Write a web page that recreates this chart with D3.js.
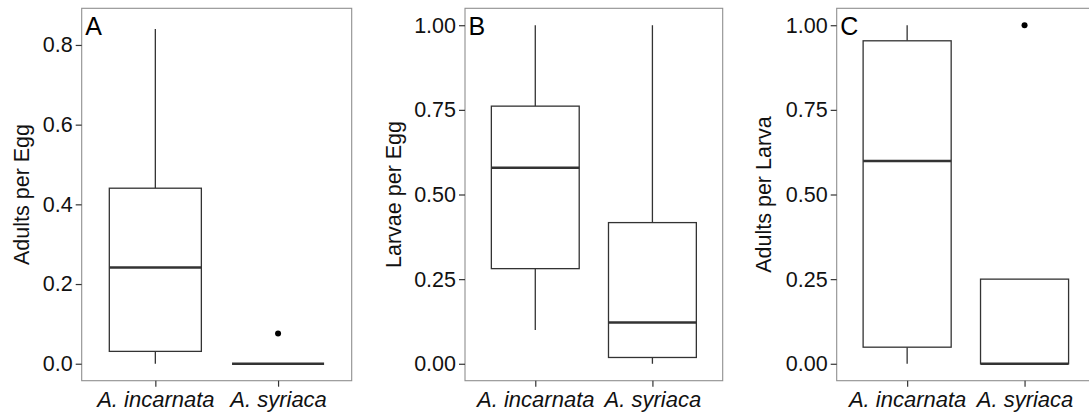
<!DOCTYPE html>
<html>
<head>
<meta charset="utf-8">
<script src="https://cdn.jsdelivr.net/npm/d3@7"></script>
<style>
  html, body { margin: 0; padding: 0; background: #fff; }
  svg { display: block; }
  text { font-family: "Liberation Sans", Arial, sans-serif; }
</style>
</head>
<body>
<svg id="chart" width="1089" height="415"></svg>
<script>
// ---- Data ----
const categories = ["A. incarnata", "A. syriaca"];
const panelLabels = ["A", "B", "C"];
const yTitles = ["Adults per Egg", "Larvae per Egg", "Adults per Larva"];
// five-number summaries: [lower whisker, Q1, median, Q3, upper whisker]
const statsA = [[0, 0.031, 0.2415, 0.4405, 0.84], [0, 0, 0, 0, 0]];
const statsB = [[0.10, 0.281, 0.579, 0.761, 1.0], [0, 0.0186, 0.122, 0.417, 1.0]];
const statsC = [[0, 0.049, 0.599, 0.954, 1.0], [0, 0, 0, 0.25, 0.25]];
const outliersA = [[], [0.076]];
const outliersB = [[], []];
const outliersC = [[], [1.0]];
const ticksA = [0, 0.2, 0.4, 0.6, 0.8];
const ticksBC = [0, 0.25, 0.5, 0.75, 1.0];

const panels = [
  { label: panelLabels[0], title: yTitles[0], stats: statsA, outliers: outliersA, ticks: ticksA, fmt: ".1f",
    domain: [-0.0426, 0.892], left: 81.7, right: 351.7, titleOff: 60.5 },
  { label: panelLabels[1], title: yTitles[1], stats: statsB, outliers: outliersB, ticks: ticksBC, fmt: ".2f",
    domain: [-0.05, 1.05], left: 465, right: 722.7, titleOff: 72 },
  { label: panelLabels[2], title: yTitles[2], stats: statsC, outliers: outliersC, ticks: ticksBC, fmt: ".2f",
    domain: [-0.05, 1.05], left: 836.7, right: 1095, titleOff: 73.4 }
];

const plotTop = 8.3, plotBottom = 380.7;
const svg = d3.select("#chart");
const lineCol = "#333333";
const ff = "'Liberation Sans', Arial, sans-serif";

panels.forEach(p => {
  const x = d3.scalePoint().domain(categories).range([p.left, p.right]).padding(0.6);
  const y = d3.scaleLinear().domain(p.domain).range([plotBottom, plotTop]);
  const bw = x.step() * 0.75;
  const g = svg.append("g");

  // panel border
  g.append("rect").attr("x", p.left).attr("y", plotTop)
    .attr("width", p.right - p.left).attr("height", plotBottom - plotTop)
    .attr("fill", "none").attr("stroke", "#8f8f8f").attr("stroke-width", 1.1);

  // y axis
  const ya = g.append("g").attr("transform", `translate(${p.left},0)`)
    .call(d3.axisLeft(y).tickValues(p.ticks).tickFormat(d3.format(p.fmt)).tickSize(6).tickPadding(3));
  ya.select(".domain").remove();
  ya.selectAll(".tick line").attr("stroke", lineCol).attr("stroke-width", 1.2);
  ya.selectAll(".tick text").attr("font-size", 21.5).attr("fill", "#111")
    .style("font-family", ff);

  // x axis
  const xa = g.append("g").attr("transform", `translate(0,${plotBottom})`)
    .call(d3.axisBottom(x).tickSize(6).tickPadding(4));
  xa.select(".domain").remove();
  xa.selectAll(".tick line").attr("stroke", lineCol).attr("stroke-width", 1.2);
  xa.selectAll(".tick text").attr("font-size", 22).attr("fill", "#111")
    .attr("font-style", "italic").attr("dy", "0.76em")
    .style("font-family", ff);

  // y title
  g.append("text")
    .attr("transform", `translate(${p.left - p.titleOff},${(plotTop + plotBottom) / 2}) rotate(-90)`)
    .attr("text-anchor", "middle").attr("dy", "0.35em")
    .attr("font-size", 21.5).attr("fill", "#111").text(p.title);

  // boxes
  p.stats.forEach((s, i) => {
    const cx = x(categories[i]);
    const bg = g.append("g");
    // whiskers
    bg.append("line").attr("x1", cx).attr("x2", cx).attr("y1", y(s[3])).attr("y2", y(s[4]))
      .attr("stroke", lineCol).attr("stroke-width", 1.3);
    bg.append("line").attr("x1", cx).attr("x2", cx).attr("y1", y(s[1])).attr("y2", y(s[0]))
      .attr("stroke", lineCol).attr("stroke-width", 1.3);
    // box
    bg.append("rect").attr("x", cx - bw / 2).attr("y", y(s[3]))
      .attr("width", bw).attr("height", Math.max(0, y(s[1]) - y(s[3])))
      .attr("fill", "#fff").attr("stroke", lineCol).attr("stroke-width", 1.3);
    // median
    bg.append("line").attr("x1", cx - bw / 2).attr("x2", cx + bw / 2)
      .attr("y1", y(s[2])).attr("y2", y(s[2]))
      .attr("stroke", lineCol).attr("stroke-width", 2.6);
    // outliers
    p.outliers[i].forEach(o => {
      bg.append("circle").attr("cx", cx).attr("cy", y(o)).attr("r", 3).attr("fill", "#000");
    });
  });

  // panel label
  g.append("text").attr("x", p.left + 3.5).attr("y", 34.5)
    .attr("font-size", 25).attr("fill", "#000").text(p.label);
});
</script>
</body>
</html>
